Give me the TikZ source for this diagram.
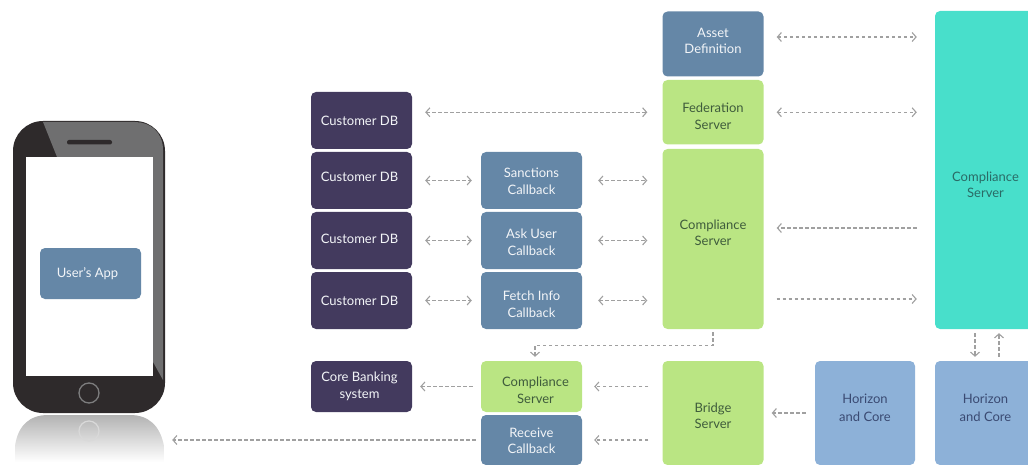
\documentclass[tikz,border=0pt]{standalone}
\usepackage{fontspec}
\setmainfont{Lato}
\usetikzlibrary{arrows.meta,calc}
\definecolor{navyDB}{HTML}{433A5E}
\definecolor{steelCB}{HTML}{6587A7}
\definecolor{greenSrv}{HTML}{BAE583}
\definecolor{tealSrv}{HTML}{48DFCB}
\definecolor{blueHz}{HTML}{8DB1D8}
\definecolor{phoneDark}{HTML}{2E2A2B}
\definecolor{phoneGrey}{HTML}{6F6F70}
\definecolor{linkGrey}{HTML}{A0A0A0}
\definecolor{greenTxt}{HTML}{3F5C3C}
\definecolor{tealTxt}{HTML}{2A6B66}
\definecolor{hzTxt}{HTML}{3A4A72}
\begin{document}
\begin{tikzpicture}[x=1pt,y=-1pt]
    \tikzset{font={\fontsize{13pt}{16.5pt}\selectfont},
      box/.style={rounded corners=5pt,minimum width=101pt,inner sep=0pt},
      dbbox/.style={box,fill=navyDB},
      cbbox/.style={box,fill=steelCB},
      srvbox/.style={box,fill=greenSrv},
      peerbox/.style={box,fill=tealSrv},
      hzbox/.style={box,fill=blueHz},
      txtlight/.style={align=center,text=white!92!steelCB},
      txtgreen/.style={align=center,text=greenTxt},
      txtteal/.style={align=center,text=tealTxt},
      txthz/.style={align=center,text=hzTxt},
      link/.style={draw=linkGrey,line width=1.1pt,dash pattern=on 3.5pt off 2.5pt},
      arr/.style={link,-{Straight Barb[length=4pt,width=9pt]}},
      arrb/.style={link,{Straight Barb[length=4pt,width=9pt]}-{Straight Barb[length=4pt,width=9pt]}},
      gapA/.style={shorten <=13pt,shorten >=9pt},
      gapB/.style={shorten <=13pt,shorten >=18pt}}
    \useasboundingbox (0,0) rectangle (1028,465);
    % phone
    \shade[top color=black!30,bottom color=white] (15,450)--(15,446) .. controls (18,425) and (30,415) .. (48,415)--(130,415) .. controls (148,415) and (160,425) .. (164,446)--(164,462)--(15,462)--cycle;
    \draw[white!85!black,line width=1.2pt] (89,431) circle (10);
    \node[fill=phoneDark,rounded corners=30pt,minimum width=152pt,minimum height=292pt,inner sep=0pt] (phone) at (89,267) {};
    \fill[phoneGrey] (43,122)--(57,157)--(153,157)--(153,362)--(163,380)--(163,150) .. controls (163,132) and (150,122) .. (135,122)--cycle;
    \node[fill=white,minimum width=127pt,minimum height=219pt,inner sep=0pt] (screen) at (89.5,266.5) {};
    \fill[phoneDark,rounded corners=2pt] (67,140) rectangle (112,144.5);
    \draw[phoneGrey!90!white,line width=1.3pt] (89,393) circle (10);
    \node[cbbox,minimum height=51pt,label={[txtlight,xshift=-3pt]center:User's App}] (app) at (90.5,273.5) {};
    % customer DBs
    \node[dbbox,minimum height=57pt,label={[txtlight,xshift=-2pt]center:Customer DB}] (dbOne) at (361.5,120.5) {};
    \node[dbbox,minimum height=57pt,label={[txtlight,xshift=-2pt,yshift=4pt]center:Customer DB}] (dbTwo) at (361.5,180.5) {};
    \node[dbbox,minimum height=57pt,label={[txtlight,xshift=-2pt,yshift=2pt]center:Customer DB}] (dbThree) at (361.5,240.5) {};
    \node[dbbox,minimum height=57pt,label={[txtlight,xshift=-2pt]center:Customer DB}] (dbFour) at (361.5,300.5) {};
    \node[dbbox,minimum height=51pt,label={[txtlight,xshift=-2pt]center:{Core Banking\\system}}] (bank) at (361.5,386.5) {};
    % callbacks
    \node[cbbox,minimum height=57pt,label={[txtlight,yshift=-1pt]center:{Sanctions\\Callback}}] (sanctions) at (531.5,180.5) {};
    \node[cbbox,minimum height=57pt,label={[txtlight,yshift=-2pt]center:{Ask User\\Callback}}] (askUser) at (531.5,240.5) {};
    \node[cbbox,minimum height=57pt,label={[txtlight,yshift=-4pt]center:{Fetch Info\\Callback}}] (fetchInfo) at (531.5,300.5) {};
    \node[srvbox,minimum height=51pt,label={[txtgreen,xshift=4pt,yshift=-4pt]center:{Compliance\\Server}}] (compRecv) at (531.5,386.5) {};
    \node[cbbox,minimum height=50pt,label={[txtlight,yshift=-1pt]center:{Receive\\Callback}}] (receive) at (531.5,440) {};
    % servers
    \node[cbbox,minimum height=65pt,label={[txtlight,yshift=3pt]center:{Asset\\Definition}}] (asset) at (713,44) {};
    \node[srvbox,minimum height=64.5pt,label={[txtgreen,yshift=-4pt]center:{Federation\\Server}}] (federation) at (713,112.25) {};
    \node[srvbox,minimum height=180pt,label={[txtgreen,yshift=6pt]center:{Compliance\\Server}}] (compSend) at (713,239) {};
    \node[srvbox,minimum height=104pt,label={[txtgreen,yshift=-3pt]center:{Bridge\\Server}}] (bridge) at (713,413) {};
    \node[hzbox,minimum width=100pt,minimum height=104pt,label={[txthz,yshift=5pt]center:{Horizon\\[2pt]and Core}}] (hzOne) at (865,413) {};
    \node[hzbox,minimum height=104pt,label={[txthz,yshift=5pt]center:{Horizon\\[2pt]and Core}}] (hzTwo) at (985.5,413) {};
    \node[peerbox,minimum height=318pt,label={[txtteal,yshift=-15pt]center:{Compliance\\Server}}] (compPeer) at (985.5,170) {};
    % links
    \draw[arrb,gapB] ([yshift=7pt]asset.east) -- ([yshift=7pt]asset.east -| compPeer.west);
    \draw[arrb,gapB] (federation.east) -- (federation.east -| compPeer.west);
    \draw[arrb,shorten <=13pt,shorten >=15pt] (dbOne.east |- federation.west) -- (federation.west);
    \draw[arrb,gapA] (dbTwo.east) -- (sanctions.west);
    \draw[arrb,gapA] (dbThree.east) -- (askUser.west);
    \draw[arrb,gapA] (dbFour.east) -- (fetchInfo.west);
    \draw[arrb,shorten <=16pt,shorten >=15pt] (sanctions.east) -- (sanctions.east -| compSend.west);
    \draw[arrb,shorten <=16pt,shorten >=15pt] (askUser.east) -- (askUser.east -| compSend.west);
    \draw[arrb,shorten <=16pt,shorten >=15pt] (fetchInfo.east) -- (fetchInfo.east -| compSend.west);
    \draw[arr,shorten <=18pt,shorten >=13pt] (compPeer.west |- 0,228) -- (compSend.east |- 0,228);
    \draw[arr,shorten <=13pt,shorten >=18pt] (compSend.east |- 0,299) -- (compPeer.west |- 0,299);
    \draw[arr,shorten <=3pt,shorten >=4pt] (compSend.south) -- ++(0,16) -| ([xshift=3.5pt]compRecv.north);
    \draw[arr,shorten <=8pt,shorten >=8pt] (compRecv.west) -- (bank.east);
    \draw[arr,shorten <=14pt,shorten >=12pt] (bridge.west |- compRecv.east) -- (compRecv.east);
    \draw[arr,shorten <=14pt,shorten >=12pt] (bridge.west |- receive.east) -- (receive.east);
    \draw[arr,shorten <=9pt,shorten >=8pt] (hzOne.west) -- (bridge.east);
    \draw[arr,shorten <=5pt,shorten >=7pt] (receive.west) -- (phone.east |- receive.west);
    \draw[arr,shorten <=4pt,shorten >=4pt] ([xshift=-10.5pt]compPeer.south) -- ([xshift=-10.5pt]hzTwo.north);
    \draw[arr,shorten <=4pt,shorten >=4pt] ([xshift=13.5pt]hzTwo.north) -- ([xshift=13.5pt]compPeer.south);
\end{tikzpicture}
\end{document}
